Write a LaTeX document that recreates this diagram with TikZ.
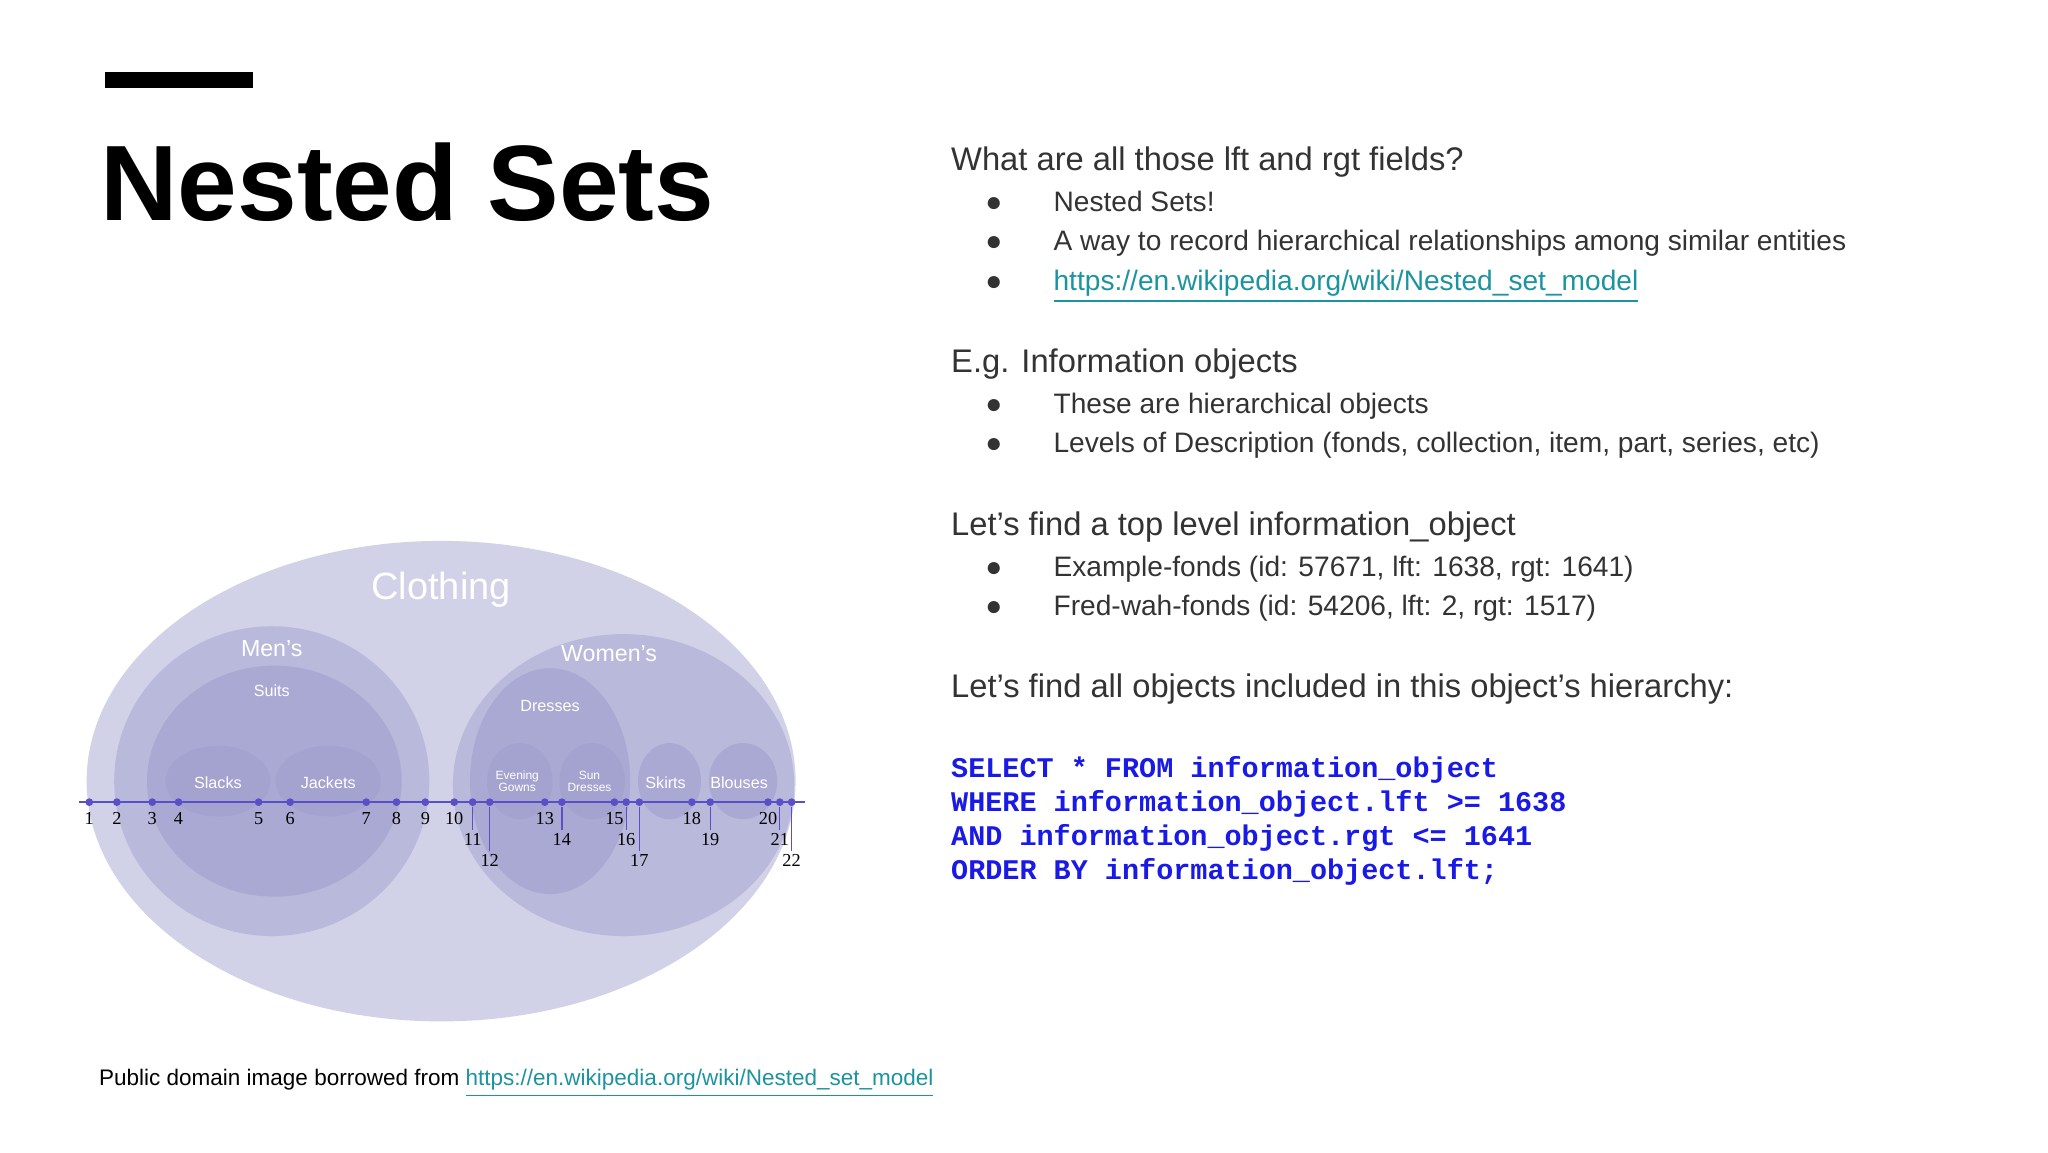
\documentclass[tikz,border=0pt]{standalone}
\usepackage{fontspec}
\setmainfont{Liberation Sans}
\newfontfamily\serifnum{Liberation Serif}
\newfontfamily\codefont{Liberation Mono}
\newcommand{\fsz}[1]{\fontsize{#1}{#1}\selectfont}
\definecolor{lev1}{HTML}{D1D1E7}
\definecolor{lev2}{HTML}{B9B9DB}
\definecolor{lev3}{HTML}{AAA9D3}
\definecolor{lev4}{HTML}{A4A3D0}
\definecolor{axis}{HTML}{5B4FC8}
\definecolor{linkc}{HTML}{1C94A0}
\definecolor{codec}{HTML}{1A1AE6}
\definecolor{txt}{HTML}{333333}
\tikzset{
 ell/.style={draw=none},
 wl/.style={text=white,inner sep=0pt},
 num/.style={font=\serifnum\fsz{5.2}, inner sep=0pt, anchor=base},
 dot/.style={circle,fill=axis,inner sep=0pt,minimum size=2.2pt},
 tick/.style={draw=axis,line width=0.35pt},
 hd/.style={anchor=base west,inner sep=0pt,text=txt,font=\fsz{9.3}},
 bl/.style={anchor=base west,inner sep=0pt,text=txt,font=\fsz{8}},
 bul/.style={anchor=base,inner sep=0pt,text=txt,font=\fsz{8}},
 code/.style={anchor=base west,inner sep=0pt,text=codec,font=\codefont\bfseries\fsz{8.1}},
}
\begin{document}
\begin{tikzpicture}[x=0.013128cm,y=-0.013128cm]
\useasboundingbox (0,0) rectangle (1560,877.5);
\fill[white] (0,0) rectangle (1560,877.5);
% title
\fill[black] (80,55) rectangle (193,67);
\node[anchor=base west,inner sep=0pt,font=\bfseries\fsz{30.5}] (title) at (76,168) {Nested Sets};
% diagram
\fill[lev1] (336,595) ellipse [x radius=270,y radius=183];
\fill[lev2] (207,595) ellipse [x radius=120,y radius=118];
\fill[lev2] (475,598) ellipse [x radius=130,y radius=115];
\fill[lev3] (209,595) ellipse [x radius=97,y radius=88];
\fill[lev3] (419,595) ellipse [x radius=61,y radius=86];
\fill[lev4] (166,595) ellipse [x radius=40,y radius=27];
\fill[lev4] (250,595) ellipse [x radius=40,y radius=27];
\fill[lev4] (396,595) ellipse [x radius=25,y radius=29];
\fill[lev4] (451,595) ellipse [x radius=25,y radius=29];
\fill[lev3] (510,595) ellipse [x radius=24,y radius=29];
\fill[lev3] (566,595) ellipse [x radius=26,y radius=29];
\node[wl,font=\fsz{10.8}] (cl) at (336,449) {Clothing};
\node[wl,font=\fsz{6.6}] (men) at (207,494) {Men's};
\node[wl,font=\fsz{6.6}] (wom) at (464,498) {Women's};
\node[wl,font=\fsz{4.6}] (suits) at (207,526) {Suits};
\node[wl,font=\fsz{4.6}] (dress) at (419,538) {Dresses};
\node[wl,font=\fsz{4.6}] (slacks) at (166,596) {Slacks};
\node[wl,font=\fsz{4.6}] (jack) at (250,596) {Jackets};
\node[wl,font=\fsz{3.4},align=center] (eg) at (394,595) {Evening\\Gowns};
\node[wl,font=\fsz{3.4},align=center] (sd) at (449,595) {Sun\\Dresses};
\node[wl,font=\fsz{4.6}] (sk) at (507,596) {Skirts};
\node[wl,font=\fsz{4.6}] (bl) at (563,596) {Blouses};
% axis
\coordinate (axL) at (60,611);
\coordinate (axR) at (613,611);
\draw[axis,line width=0.6pt] (axL) -- (axR);
\foreach \n/\x in {1/68,2/89,3/116,4/136,5/197,6/221,7/279,8/302,9/324,10/346,13/415,15/468,18/527,20/585}{
  \node[dot] (p\n) at (\x,611) {};
  \node[num] (l\n) at (\x,628) {\n};
}
\foreach \n/\x/\yy in {11/360/644,12/373/660,14/428/644,16/477/644,17/487/660,19/541/644,21/594/644,22/603/660}{
  \node[dot] (p\n) at (\x,611) {};
  \coordinate (e\n) at (\x,\yy-12);
  \draw[tick] (p\n) -- (e\n);
  \node[num] (l\n) at (\x,\yy) {\n};
}
% right text
\node[hd] (h1) at (724,130) {What are all those lft and rgt fields?};
\foreach \t/\y [count=\i] in {{Nested Sets!}/161,{A way to record hierarchical relationships among similar entities}/191}{
  \node[bul] (b1\i) at (757,\y) {●};
  \node[bl] (t1\i) at (802,\y) {\t};
}
\node[bul] (b13) at (757,221) {●};
\node[bl,text=linkc] (t13) at (802,221) {\underline{https://en.wikipedia.org/wiki/Nested\_set\_model}};
\node[hd] (h2) at (724,284) {E.g. Information objects};
\node[bul] (b21) at (757,315) {●};
\node[bl] (t21) at (802,315) {These are hierarchical objects};
\node[bul] (b22) at (757,345) {●};
\node[bl] (t22) at (802,345) {Levels of Description (fonds, collection, item, part, series, etc)};
\node[hd] (h3) at (724,408) {Let’s find a top level information\_object};
\node[bul] (b31) at (757,439) {●};
\node[bl] (t31) at (802,439) {Example-fonds (id: 57671, lft: 1638, rgt: 1641)};
\node[bul] (b32) at (757,469) {●};
\node[bl] (t32) at (802,469) {Fred-wah-fonds (id: 54206, lft: 2, rgt: 1517)};
\node[hd] (h4) at (724,531) {Let’s find all objects included in this object’s hierarchy:};
\node[code] (c1) at (724,592) {SELECT * FROM information\_object};
\node[code] (c2) at (724,618) {WHERE information\_object.lft >= 1638};
\node[code] (c3) at (724,644) {AND information\_object.rgt <= 1641};
\node[code] (c4) at (724,670) {ORDER BY information\_object.lft;};
% footer
\node[anchor=base west,inner sep=0pt,font=\fsz{6.4}] (foot) at (75,827) {Public domain image borrowed from \textcolor{linkc}{\underline{https://en.wikipedia.org/wiki/Nested\_set\_model}}};
\end{tikzpicture}
\end{document}
